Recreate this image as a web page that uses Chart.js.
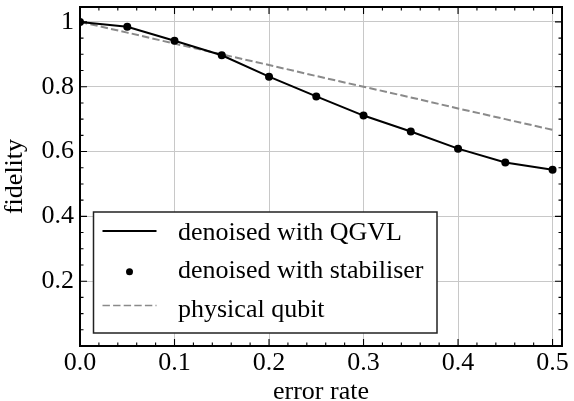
<!DOCTYPE html>
<html>
<head>
<meta charset="utf-8">
<script src="https://cdn.jsdelivr.net/npm/chart.js@4.4.1/dist/chart.umd.min.js"></script>
<style>
  html, body { margin: 0; padding: 0; background: #fff; }
</style>
</head>
<body>
<canvas id="fidelityChart" width="574" height="401"></canvas>
<script>
// Values
const errorRates = [0, 0.05, 0.1, 0.15, 0.2, 0.25, 0.3, 0.35, 0.4, 0.45, 0.5];
const qgvlFidelity = [1.0, 0.985, 0.942, 0.897, 0.831, 0.770, 0.711, 0.662, 0.609, 0.566, 0.544];
const stabiliserFidelity = [1.0, 0.985, 0.942, 0.897, 0.831, 0.770, 0.711, 0.662, 0.609, 0.566, 0.544];
const physicalFidelity = [1.0, 0.967, 0.933, 0.900, 0.867, 0.833, 0.800, 0.767, 0.733, 0.700, 0.667];
const seriesLabels = ['denoised with QGVL', 'denoised with stabiliser', 'physical qubit'];
const xTicks = [0, 0.1, 0.2, 0.3, 0.4, 0.5];
const yTicks = [0, 0.2, 0.4, 0.6, 0.8, 1.0];

const serif = '"Liberation Serif", "Times New Roman", serif';
const dashPattern = [7.4, 3.2];
const dashedGrey = '#8a8a8a';

function toPoints(ys) {
  return errorRates.map((x, i) => ({ x: x, y: ys[i] }));
}

// Inward ticks on all four sides, a closed frame, and the boxed legend
const framePlugin = {
  id: 'frameAndLegend',
  afterDraw(chart) {
    const ctx = chart.ctx;
    const area = chart.chartArea;
    const xs = chart.scales.x;
    const ys = chart.scales.y;
    ctx.save();
    ctx.strokeStyle = '#000';
    ctx.lineWidth = 1.1;
    ctx.beginPath();
    // x ticks: major every 0.1, minor every 0.02
    for (let i = 0; i <= 25; i++) {
      const px = xs.getPixelForValue(i * 0.02);
      const len = (i % 5 === 0) ? 7 : 3.5;
      ctx.moveTo(px, area.bottom); ctx.lineTo(px, area.bottom - len);
      ctx.moveTo(px, area.top); ctx.lineTo(px, area.top + len);
    }
    // y ticks: major every 0.2, minor every 0.05
    for (let i = 0; i <= 20; i++) {
      const py = ys.getPixelForValue(i * 0.05);
      const len = (i % 4 === 0) ? 7 : 3.5;
      ctx.moveTo(area.left, py); ctx.lineTo(area.left + len, py);
      ctx.moveTo(area.right, py); ctx.lineTo(area.right - len, py);
    }
    ctx.stroke();

    ctx.lineWidth = 2;
    ctx.strokeRect(area.left, area.top, area.right - area.left, area.bottom - area.top);

    // legend box
    const bx = area.left + 13.5, by = area.top + 205, bw = 343.5, bh = 121;
    ctx.fillStyle = '#fff';
    ctx.fillRect(bx, by, bw, bh);
    ctx.lineWidth = 1.5;
    ctx.strokeStyle = '#222';
    ctx.strokeRect(bx, by, bw, bh);

    const sx0 = area.left + 22.5, sx1 = area.left + 76.5;
    const textX = area.left + 98;
    // row 1: solid line
    ctx.strokeStyle = '#000';
    ctx.lineWidth = 2;
    ctx.beginPath();
    ctx.moveTo(sx0, area.top + 224); ctx.lineTo(sx1, area.top + 224);
    ctx.stroke();
    // row 2: dot
    ctx.fillStyle = '#000';
    ctx.beginPath();
    ctx.arc((sx0 + sx1) / 2, area.top + 264.7, 3.5, 0, Math.PI * 2);
    ctx.fill();
    // row 3: dashed
    ctx.strokeStyle = dashedGrey;
    ctx.lineWidth = 1.5;
    ctx.setLineDash(dashPattern);
    ctx.beginPath();
    ctx.moveTo(sx0, area.top + 298.5); ctx.lineTo(sx1, area.top + 298.5);
    ctx.stroke();
    ctx.setLineDash([]);

    ctx.fillStyle = '#000';
    ctx.font = '26px ' + serif;
    ctx.textBaseline = 'alphabetic';
    ctx.textAlign = 'left';
    ctx.fillText(seriesLabels[0], textX, area.top + 233);
    ctx.fillText(seriesLabels[1], textX, area.top + 271.3);
    ctx.fillText(seriesLabels[2], textX, area.top + 309.7);
    ctx.restore();
  }
};

const chart = new Chart(document.getElementById('fidelityChart'), {
  type: 'line',
  data: {
    datasets: [
      {
        label: seriesLabels[2],
        data: toPoints(physicalFidelity),
        borderColor: dashedGrey,
        borderWidth: 2,
        borderDash: dashPattern,
        pointRadius: 0,
        fill: false,
        order: 3
      },
      {
        label: seriesLabels[0],
        data: toPoints(qgvlFidelity),
        borderColor: '#000',
        borderWidth: 2,
        pointRadius: 0,
        fill: false,
        order: 2
      },
      {
        label: seriesLabels[1],
        data: toPoints(stabiliserFidelity),
        showLine: false,
        pointRadius: 4,
        pointBackgroundColor: '#000',
        pointBorderColor: '#000',
        pointBorderWidth: 0,
        order: 1
      }
    ]
  },
  options: {
    responsive: false,
    animation: false,
    layout: { padding: { top: 7, right: 12, left: 0, bottom: 0 } },
    plugins: {
      legend: { display: false },
      tooltip: { enabled: false }
    },
    scales: {
      x: {
        type: 'linear',
        min: 0,
        max: 0.51,
        afterBuildTicks: s => { s.ticks = xTicks.map(v => ({ value: v })); },
        afterFit: s => { s.height = 55; s.paddingLeft = 0; s.paddingRight = 0; },
        grid: { color: '#c8c8c8', lineWidth: 1, drawTicks: false },
        border: { display: false },
        ticks: {
          color: '#000',
          font: { family: serif, size: 26 },
          padding: 2,
          maxRotation: 0,
          callback: v => v.toFixed(1)
        },
        title: {
          display: true,
          text: 'error rate',
          color: '#000',
          font: { family: serif, size: 26, lineHeight: 1 },
          padding: { top: 0, bottom: -4 }
        }
      },
      y: {
        type: 'linear',
        min: 0,
        max: 1.046,
        afterBuildTicks: s => { s.ticks = yTicks.map(v => ({ value: v })); },
        afterFit: s => { s.width = 80; s.paddingTop = 0; s.paddingBottom = 0; },
        grid: { color: '#c8c8c8', lineWidth: 1, drawTicks: false },
        border: { display: false },
        ticks: {
          color: '#000',
          font: { family: serif, size: 26 },
          padding: 6,
          callback: v => (v === 0 ? '' : (v === 1 ? '1' : v.toFixed(1)))
        },
        title: {
          display: true,
          text: 'fidelity',
          color: '#000',
          font: { family: serif, size: 26, lineHeight: 1.2 },
          padding: 0
        }
      }
    }
  },
  plugins: [framePlugin]
});
</script>
</body>
</html>
